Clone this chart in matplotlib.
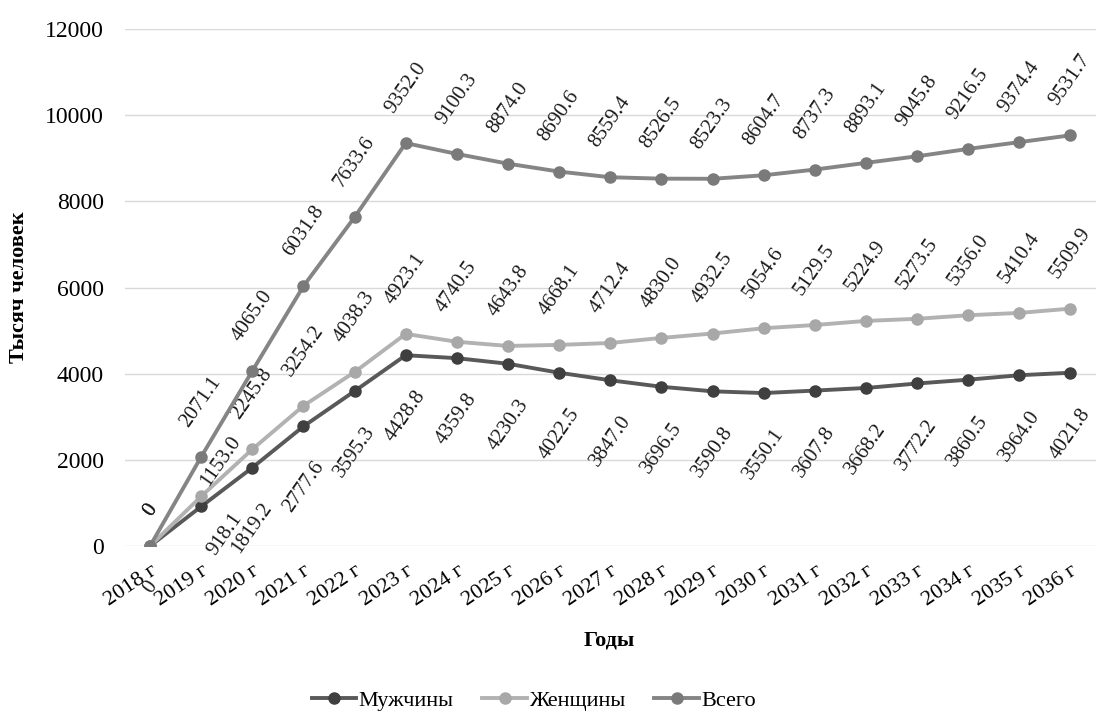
import matplotlib
matplotlib.use('Agg')
import matplotlib.pyplot as plt

years = ['2018 г', '2019 г', '2020 г', '2021 г', '2022 г', '2023 г', '2024 г', '2025 г',
         '2026 г', '2027 г', '2028 г', '2029 г', '2030 г', '2031 г', '2032 г', '2033 г',
         '2034 г', '2035 г', '2036 г']
men = [0, 918.1, 1819.2, 2777.6, 3595.3, 4428.8, 4359.8, 4230.3, 4022.5, 3847.0, 3696.5,
       3590.8, 3550.1, 3607.8, 3668.2, 3772.2, 3860.5, 3964.0, 4021.8]
women = [0, 1153.0, 2245.8, 3254.2, 4038.3, 4923.1, 4740.5, 4643.8, 4668.1, 4712.4, 4830.0,
         4932.5, 5054.6, 5129.5, 5224.9, 5273.5, 5356.0, 5410.4, 5509.9]
total = [0, 2071.1, 4065.0, 6031.8, 7633.6, 9352.0, 9100.3, 8874.0, 8690.6, 8559.4, 8526.5,
         8523.3, 8604.7, 8737.3, 8893.1, 9045.8, 9216.5, 9374.4, 9531.7]

plt.rcParams['font.family'] = ['Liberation Serif', 'DejaVu Serif']

fig = plt.figure(figsize=(10.96, 7.16), dpi=100)
ax = fig.add_axes([0.1136, 0.2374, 0.8864, 0.7221])

x = list(range(len(years)))

series = [
    ('Мужчины', men, '#595959', '#3f3f3f', 'below'),
    ('Женщины', women, '#b2b2b2', '#a8a8a8', 'above'),
    ('Всего', total, '#858585', '#7a7a7a', 'above'),
]

# labels that were moved by hand in the original (offsets in points)
moved = {('Мужчины', 1): (17, -2), ('Женщины', 1): (14, 5)}

for name, vals, col, mcol, pos in series:
    ax.plot(x, vals, color=col, lw=2.8, marker='o', ms=8, mfc=mcol, mec=mcol,
            label=name, zorder=3)
    for i, v in enumerate(vals):
        txt = '0' if v == 0 else f'{v:.1f}'
        if pos == 'above':
            off = moved.get((name, i), (0, 19))
            ax.annotate(txt, (i, v), xytext=off, textcoords='offset points',
                        rotation=55, ha='center', va='bottom',
                        fontsize=15, color='#1a1a1a')
        else:
            off = moved.get((name, i), (0, -23))
            ax.annotate(txt, (i, v), xytext=off, textcoords='offset points',
                        rotation=55, ha='center', va='top',
                        fontsize=15, color='#1a1a1a')

ax.set_xlim(-0.5, len(years) - 0.5)
ax.set_ylim(0, 12000)
ax.set_yticks(range(0, 12001, 2000))
ax.set_xticks(x)
ax.set_xticklabels(years, rotation=34, ha='right', rotation_mode='anchor', fontsize=16)
ax.tick_params(axis='y', labelsize=17, length=0, pad=15)
ax.tick_params(axis='x', length=0, pad=11)
ax.grid(axis='y', color='#d9d9d9', lw=1)
ax.set_axisbelow(True)
for s in ax.spines.values():
    s.set_visible(False)

fig.text(0.017, 0.599, 'Тысяч человек', rotation=90, ha='center', va='center',
         fontsize=16, fontweight='bold')
fig.text(0.556, 0.106, 'Годы', ha='center', va='center', fontsize=16, fontweight='bold')

fig.legend(loc='center', bbox_to_anchor=(0.487, 0.022), ncol=3, frameon=False,
           fontsize=16, handlelength=2.0, columnspacing=1.3, handletextpad=0.1)

fig.savefig('out.png', dpi=100)
